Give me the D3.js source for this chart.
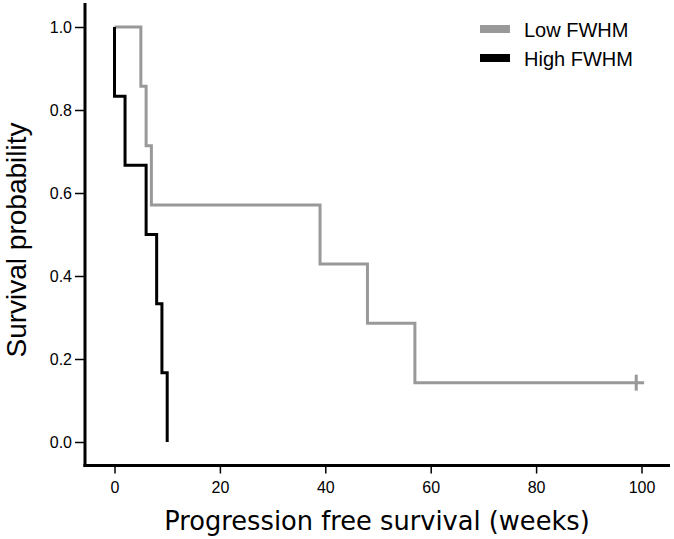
<!DOCTYPE html>
<html><head><meta charset="utf-8">
<script src="https://cdn.jsdelivr.net/npm/d3@7"></script>
<style>body{margin:0;background:#fff}svg{display:block}</style>
</head><body>
<script>
// Data
const lowTimes = [0, 5, 6, 7, 39, 48, 57];
const lowSurv  = [1.0, 0.857, 0.714, 0.571, 0.429, 0.286, 0.143];
const lowEnd = 100.5;
const lowCensor = [99];
const highTimes = [0, 0, 2, 6, 8, 9, 10];
const highSurv  = [1.0, 0.833, 0.667, 0.5, 0.333, 0.167, 0.0];
const highEnd = 10;
const xTicks = [0, 20, 40, 60, 80, 100];
const yTicks = [0.0, 0.2, 0.4, 0.6, 0.8, 1.0];
const seriesNames = ["Low FWHM", "High FWHM"];
const seriesColors = ["#999999", "#000000"];

const W = 674, H = 539;
const svg = d3.select("body").append("svg").attr("width", W).attr("height", H);
const x = d3.scaleLinear().domain([0, 100]).range([114.5, 641.5]);
const y = d3.scaleLinear().domain([0, 1]).range([442, 27]);

// axes
const yAxis = svg.append("g").attr("transform", "translate(85,0)")
  .call(d3.axisLeft(y).tickValues(yTicks).tickFormat(d3.format(".1f")).tickSize(10).tickPadding(3));
const xAxis = svg.append("g").attr("transform", "translate(0,465.5)")
  .call(d3.axisBottom(x).tickValues(xTicks).tickFormat(d3.format("d")).tickSize(8).tickPadding(8));
[yAxis, xAxis].forEach(g => {
  g.attr("font-size", 16).attr("font-family", "Liberation Sans, Arial, sans-serif");
  g.select(".domain").remove();
  g.selectAll(".tick line").attr("stroke", "#000").attr("stroke-width", 1.5);
  g.selectAll(".tick text").attr("fill", "#000");
});
// axis lines
svg.append("line").attr("x1", 85).attr("x2", 85).attr("y1", 3).attr("y2", 467)
  .attr("stroke", "#000").attr("stroke-width", 3);
svg.append("line").attr("x1", 83.5).attr("x2", 670).attr("y1", 465.5).attr("y2", 465.5)
  .attr("stroke", "#000").attr("stroke-width", 3);

// step paths
function kmPoints(times, surv, end) {
  const pts = [];
  for (let i = 0; i < times.length; i++) {
    if (i > 0) pts.push([times[i], surv[i - 1]]);
    pts.push([times[i], surv[i]]);
  }
  pts.push([end, surv[surv.length - 1]]);
  return pts;
}
const line = d3.line().x(d => x(d[0])).y(d => y(d[1]));
svg.append("path").attr("d", line(kmPoints(lowTimes, lowSurv, lowEnd)))
  .attr("fill", "none").attr("stroke", seriesColors[0]).attr("stroke-width", 3);
svg.append("path").attr("d", line(kmPoints(highTimes, highSurv, highEnd)))
  .attr("fill", "none").attr("stroke", seriesColors[1]).attr("stroke-width", 3);
// censor marks
svg.selectAll(".cens").data(lowCensor).enter().append("line")
  .attr("x1", d => x(d)).attr("x2", d => x(d))
  .attr("y1", y(lowSurv[lowSurv.length - 1]) - 8).attr("y2", y(lowSurv[lowSurv.length - 1]) + 8)
  .attr("stroke", seriesColors[0]).attr("stroke-width", 3);

// legend
seriesNames.forEach((n, i) => {
  const yy = 29 + i * 29;
  svg.append("line").attr("x1", 480).attr("x2", 510).attr("y1", yy).attr("y2", yy)
    .attr("stroke", seriesColors[i]).attr("stroke-width", 8);
  svg.append("text").attr("x", 524).attr("y", yy + 8).text(n)
    .attr("font-family", "Liberation Sans, Arial, sans-serif").attr("font-size", 20).attr("fill", "#000");
});

// titles
svg.append("text").attr("x", 377).attr("y", 530).attr("text-anchor", "middle")
  .attr("font-family", "DejaVu Sans, Verdana, sans-serif").attr("font-size", 25.7)
  .text("Progression free survival (weeks)");
svg.append("text").attr("transform", "translate(26,240) rotate(-90)").attr("text-anchor", "middle")
  .attr("font-family", "Liberation Sans, Arial, sans-serif").attr("font-size", 28)
  .text("Survival probability");
</script>
</body></html>
